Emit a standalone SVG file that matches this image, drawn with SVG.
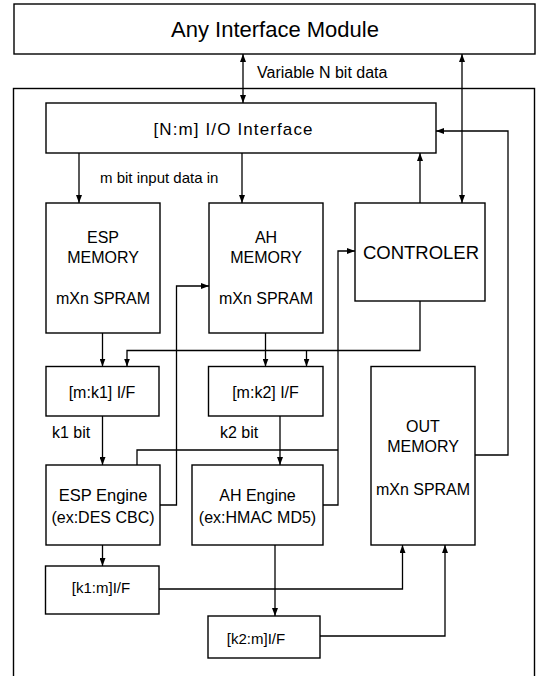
<svg xmlns="http://www.w3.org/2000/svg" width="540" height="676" viewBox="0 0 540 676">
<style>
.box{fill:#fff;stroke:#000;stroke-width:1.4}
.frame{fill:none;stroke:#000;stroke-width:1.4}
.t{font-family:"Liberation Sans",Arial,Helvetica,sans-serif;fill:#000}
.m{text-anchor:middle}
.c{fill:none;stroke:#000;stroke-width:1.3}
</style>
<defs>
<marker id="ah" viewBox="0 0 8 6" refX="8" refY="3" markerWidth="8" markerHeight="6" orient="auto-start-reverse" markerUnits="userSpaceOnUse">
<path d="M0,0 L8,3 L0,6 z" fill="#000"/>
</marker>
</defs>
<rect x="0" y="0" width="540" height="676" fill="#fff"/>
<rect id="outer" class="frame" x="13.5" y="88.5" width="521" height="620"/>

<g id="connectors">
<line class="c" x1="243" y1="54" x2="243" y2="103" marker-start="url(#ah)" marker-end="url(#ah)"/>
<line class="c" x1="462" y1="54" x2="462" y2="203" marker-start="url(#ah)" marker-end="url(#ah)"/>
<line class="c" x1="79" y1="153" x2="79" y2="203" marker-end="url(#ah)"/>
<line class="c" x1="242" y1="153" x2="242" y2="203" marker-end="url(#ah)"/>
<line class="c" x1="420" y1="203" x2="420" y2="153" marker-end="url(#ah)"/>
<path class="c" d="M420,301 V350.5 H127 V366.5" marker-end="url(#ah)"/>
<line class="c" x1="306.5" y1="350.5" x2="306.5" y2="366.5" marker-end="url(#ah)"/>
<line class="c" x1="102.5" y1="333" x2="102.5" y2="366.5" marker-end="url(#ah)"/>
<line class="c" x1="265.5" y1="333" x2="265.5" y2="366.5" marker-end="url(#ah)"/>
<line class="c" x1="102.5" y1="416" x2="102.5" y2="465" marker-end="url(#ah)"/>
<line class="c" x1="280" y1="416" x2="280" y2="465" marker-end="url(#ah)"/>
<path class="c" d="M160,505 H176.5 V286 H209" marker-end="url(#ah)"/>
<path class="c" d="M137,465 V450 H338"/>
<path class="c" d="M323,505 H338 V251 H355" marker-end="url(#ah)"/>
<path class="c" d="M475,455 H508 V131 H436" marker-end="url(#ah)"/>
<line class="c" x1="102.5" y1="545" x2="102.5" y2="566" marker-end="url(#ah)"/>
<path class="c" d="M159,589 H402.5 V545" marker-end="url(#ah)"/>
<line class="c" x1="275" y1="545" x2="275" y2="616" marker-end="url(#ah)"/>
<path class="c" d="M320,636 H445 V545" marker-end="url(#ah)"/>
</g>

<g id="any-interface">
<rect class="box" x="14" y="4" width="521" height="50"/>
<text class="t m" x="275" y="37" font-size="22">Any Interface Module</text>
</g>
<g id="label-variable">
<text class="t" x="257" y="77.5" font-size="16">Variable N bit data</text>
</g>
<g id="io-interface">
<rect class="box" x="46" y="103" width="390" height="50"/>
<text class="t m" x="233" y="135" font-size="17" textLength="159" lengthAdjust="spacing">[N:m] I/O Interface</text>
</g>
<g id="label-mbit">
<text class="t" x="100" y="182.5" font-size="15">m bit input data in</text>
</g>
<g id="esp-memory">
<rect class="box" x="46" y="203" width="114" height="130"/>
<text class="t m" x="103" y="242.5" font-size="16">ESP</text>
<text class="t m" x="103" y="263" font-size="16">MEMORY</text>
<text class="t m" x="103" y="304" font-size="16">mXn SPRAM</text>
</g>
<g id="ah-memory">
<rect class="box" x="209" y="203" width="114" height="130"/>
<text class="t m" x="266" y="242.5" font-size="16">AH</text>
<text class="t m" x="266" y="263" font-size="16">MEMORY</text>
<text class="t m" x="266" y="304" font-size="16">mXn SPRAM</text>
</g>
<g id="controler">
<rect class="box" x="355" y="203" width="130" height="98"/>
<text class="t m" x="421" y="258.5" font-size="18.5">CONTROLER</text>
</g>
<g id="mk1-if">
<rect class="box" x="46" y="366.5" width="113" height="49.5"/>
<text class="t m" x="102" y="397.5" font-size="16">[m:k1] I/F</text>
</g>
<g id="mk2-if">
<rect class="box" x="208.5" y="366.5" width="114.5" height="49.5"/>
<text class="t m" x="265.5" y="397.5" font-size="16">[m:k2] I/F</text>
</g>
<g id="label-k1">
<text class="t" x="52" y="437.5" font-size="16">k1 bit</text>
</g>
<g id="label-k2">
<text class="t" x="220" y="437.5" font-size="16">k2 bit</text>
</g>
<g id="out-memory">
<rect class="box" x="371" y="366.5" width="104" height="178.5"/>
<text class="t m" x="423" y="431.5" font-size="16">OUT</text>
<text class="t m" x="423" y="451.5" font-size="16">MEMORY</text>
<text class="t m" x="423" y="494.5" font-size="16">mXn SPRAM</text>
</g>
<g id="esp-engine">
<rect class="box" x="46" y="465" width="114" height="80"/>
<text class="t m" x="103" y="500.7" font-size="16.5">ESP Engine</text>
<text class="t m" x="103" y="522.7" font-size="16">(ex:DES CBC)</text>
</g>
<g id="ah-engine">
<rect class="box" x="192" y="465" width="131" height="80"/>
<text class="t m" x="257.5" y="500.7" font-size="16">AH Engine</text>
<text class="t m" x="257.5" y="522.7" font-size="16">(ex:HMAC MD5)</text>
</g>
<g id="k1m-if">
<rect class="box" x="45.5" y="566" width="113.5" height="48"/>
<text class="t m" x="101" y="592.7" font-size="15">[k1:m]I/F</text>
</g>
<g id="k2m-if">
<rect class="box" x="208" y="616" width="112" height="42"/>
<text class="t m" x="256" y="643.5" font-size="15">[k2:m]I/F</text>
</g>
</svg>
